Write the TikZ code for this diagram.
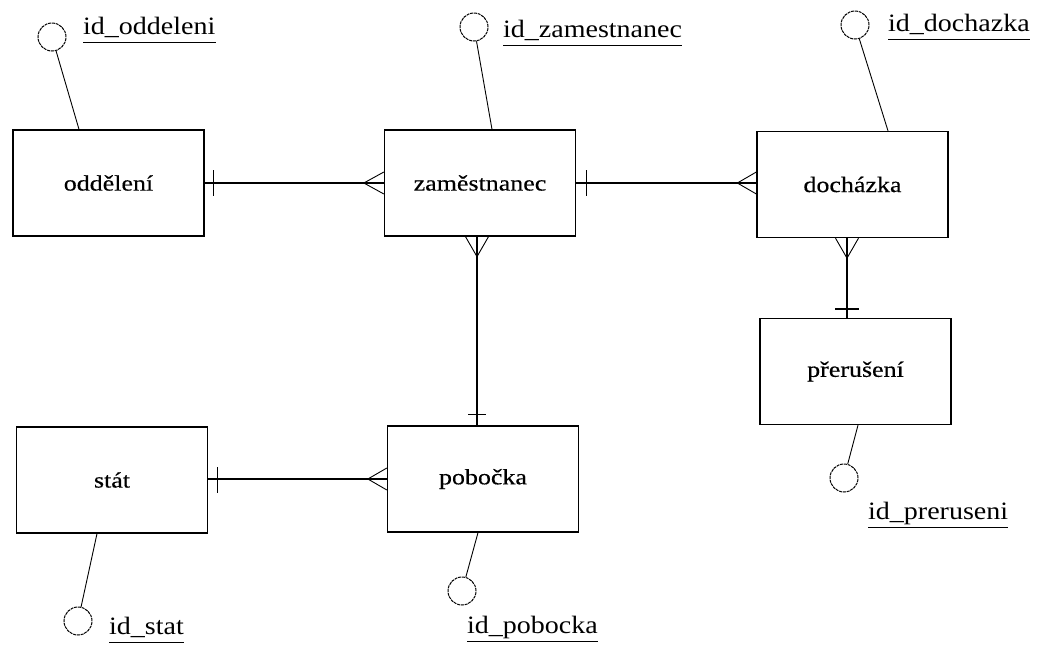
\documentclass[tikz,border=0pt]{standalone}
\usepackage{fontspec}
\newfontfamily\boxfont[FakeStretch=1.18,FakeBold=0.4]{Liberation Serif}
\newfontfamily\attrfont[FakeStretch=1.12]{Liberation Serif}
\begin{document}
\begin{tikzpicture}[x=1pt,y=-1pt,
  entity/.style={draw,line width=1.3pt,minimum width=191pt,minimum height=106pt,inner sep=0pt,font=\boxfont\fontsize{22}{24}\selectfont},
  attrc/.style={draw,circle,dash pattern=on 3pt off 0.8pt,line width=1pt,minimum size=28pt,inner sep=0pt},
  attrl/.style={anchor=base west,inner sep=0pt,text depth=8.5pt,font=\attrfont\fontsize{25}{27}\selectfont},
  att/.style={line width=0.9pt},
  rel/.style={line width=1.3pt}]
\useasboundingbox (0,0) rectangle (1045,646);

% entities
\node[entity] (odd) at (108.5,183) {oddělení};
\node[entity] (zam) at (480,183) {zaměstnanec};
\node[entity] (doc) at (852.5,184.5) {docházka};
\node[entity] (pre) at (855.5,371.5) {přerušení};
\node[entity] (sta) at (112,480) {stát};
\node[entity] (pob) at (483,479) {pobočka};

% attribute circles
\node[attrc] (c1) at (52,37) {};
\node[attrc] (c2) at (474,27) {};
\node[attrc] (c3) at (855,25) {};
\node[attrc] (c4) at (844,478) {};
\node[attrc] (c5) at (78,621) {};
\node[attrc] (c6) at (462,591) {};

% attribute labels
\node[attrl] (l1) at (83,34) {id\_oddeleni};
\node[attrl] (l2) at (503,37) {id\_zamestnanec};
\node[attrl] (l3) at (888,31) {id\_dochazka};
\node[attrl] (l4) at (868,519) {id\_preruseni};
\node[attrl] (l5) at (109,634) {id\_stat};
\node[attrl] (l6) at (467,633) {id\_pobocka};
\foreach \l in {l1,l2,l3,l4,l5,l6}
  \draw[line width=1pt] (\l.south west) -- (\l.south east);

% attribute links
\draw[att] (c1) -- ([xshift=-29.5pt]odd.north);
\draw[att] (c2) -- ([xshift=12pt]zam.north);
\draw[att] (c3) -- ([xshift=35.5pt]doc.north);
\draw[att] (c4) -- ([xshift=2.5pt]pre.south);
\draw[att] (c5) -- ([xshift=-15pt]sta.south);
\draw[att] (c6) -- ([xshift=-5pt]pob.south);

% odd -- zam
\draw[rel] (odd.east) -- (zam.west);
\draw[rel] ([xshift=9pt,yshift=13pt]odd.east) -- ([xshift=9pt,yshift=-13pt]odd.east);
\draw[att] ([xshift=-20pt]zam.west) -- ([yshift=11pt]zam.west);
\draw[att] ([xshift=-20pt]zam.west) -- ([yshift=-11pt]zam.west);

% zam -- doc
\draw[rel] (zam.east |- 0,183) -- (doc.west |- 0,183);
\draw[rel] ([xshift=10pt,yshift=13pt]zam.east) -- ([xshift=10pt,yshift=-13pt]zam.east);
\draw[att] ([xshift=-19pt,yshift=1.5pt]doc.west) -- ([yshift=12.5pt]doc.west);
\draw[att] ([xshift=-19pt,yshift=1.5pt]doc.west) -- ([yshift=-9.5pt]doc.west);

% zam -- pob
\draw[rel] ([xshift=-3pt]zam.south) -- ([xshift=-6pt]pob.north);
\draw[rel] ([xshift=-15pt,yshift=11pt]pob.north) -- ([xshift=3pt,yshift=11pt]pob.north);
\draw[att] ([xshift=-3pt,yshift=-20pt]zam.south) -- ([xshift=-14.5pt]zam.south);
\draw[att] ([xshift=-3pt,yshift=-20pt]zam.south) -- ([xshift=8.5pt]zam.south);

% doc -- pre
\draw[rel] ([xshift=-5.5pt]doc.south) -- ([xshift=-8.5pt]pre.north);
\draw[rel] ([xshift=-20.5pt,yshift=9pt]pre.north) -- ([xshift=3.5pt,yshift=9pt]pre.north);
\draw[att] ([xshift=-5.5pt,yshift=-20pt]doc.south) -- ([xshift=-17pt]doc.south);
\draw[att] ([xshift=-5.5pt,yshift=-20pt]doc.south) -- ([xshift=6pt]doc.south);

% sta -- pob
\draw[rel] (sta.east |- 0,479) -- (pob.west |- 0,479);
\draw[rel] ([xshift=9pt,yshift=13pt]sta.east) -- ([xshift=9pt,yshift=-13pt]sta.east);
\draw[att] ([xshift=-19pt]pob.west) -- ([yshift=11pt]pob.west);
\draw[att] ([xshift=-19pt]pob.west) -- ([yshift=-11pt]pob.west);
\end{tikzpicture}
\end{document}
